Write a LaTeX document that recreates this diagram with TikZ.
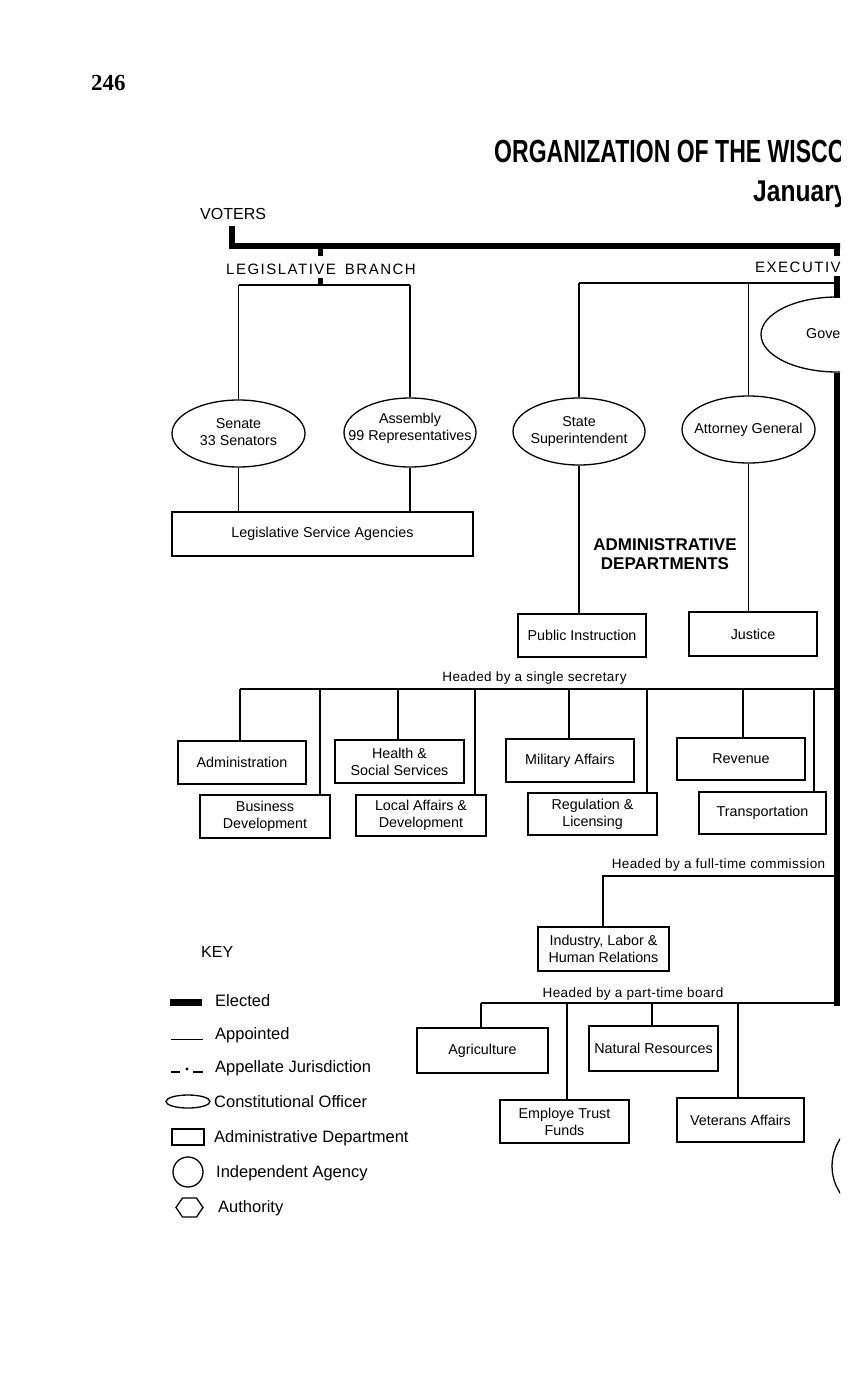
\documentclass[tikz,border=0pt]{standalone}
\usepackage{fontspec}
\setmainfont{Liberation Sans}
\newfontfamily\numfont{Liberation Serif}
\newfontfamily\condfont[FakeStretch=0.72]{Liberation Sans}
\newfontfamily\condfontj[FakeStretch=0.82]{Liberation Sans}
\newfontfamily\spacedfont[LetterSpace=10]{Liberation Sans}
\newfontfamily\lightspaced[LetterSpace=3]{Liberation Sans}
\usetikzlibrary{shapes.geometric}
\newcommand{\bodyfont}{\fontsize{14.3}{17}\selectfont}
\begin{document}
\begin{tikzpicture}[x=1pt,y=-1pt,
  elected/.style={line width=6pt},
  branchline/.style={line width=2.2pt},
  apptline/.style={line width=1.3pt},
  deptbox/.style={draw,line width=1.3pt,rectangle,inner sep=0pt,align=center,font=\bodyfont},
  constoff/.style={draw,line width=1.3pt,ellipse,inner sep=0pt,minimum width=133pt,minimum height=67pt},
  inlabel/.style={align=center,font=\bodyfont,inner sep=0pt},
  headlabel/.style={anchor=base,font=\lightspaced\fontsize{13.5}{16}\selectfont,inner sep=0pt},
  keytext/.style={anchor=base west,font=\fontsize{16.5}{19}\selectfont,inner sep=0pt},
  keyshape/.style={draw,line width=1.3pt,inner sep=0pt},
]
\useasboundingbox (0,0) rectangle (859,1380);
\fill[white] (0,0) rectangle (859,1380);
\begin{scope}
\clip (0,0) rectangle (840,1380);

% headings
\node[anchor=base west,inner sep=0pt,font=\numfont\bfseries\fontsize{23}{26}\selectfont] (pagenum) at (91,91) {246};
\node[anchor=base west,inner sep=0pt,font=\condfont\bfseries\fontsize{32}{36}\selectfont] (title) at (494,163) {ORGANIZATION OF THE WISCO};
\node[anchor=base west,inner sep=0pt,font=\condfontj\bfseries\fontsize{30}{34}\selectfont] (date) at (753,202) {January};

\node[anchor=base west,inner sep=0pt,font=\fontsize{16}{19}\selectfont] (voters) at (200,220) {VOTERS};
\node[anchor=base west,inner sep=0pt,font=\spacedfont\fontsize{15}{18}\selectfont] (legbranch) at (226,274) {LEGISLATIVE\hspace{9pt}BRANCH};
\node[anchor=base west,inner sep=0pt,font=\spacedfont\fontsize{15}{18}\selectfont] (execbranch) at (755,272) {EXECUTIV};

% elected lines
\coordinate (vtop) at (232,226);
\coordinate (vcorner) at (232,246);
\coordinate (vright) at (846,246);
\draw[elected,line join=miter] (vtop) -- (vcorner) -- (vright);
\draw[line width=5pt] (320.5,246) -- (320.5,256);
\draw[line width=5pt] (320.5,278) -- (320.5,285);
\coordinate (legbar) at (320.5,285);
\coordinate (execbar) at (837,283);
\draw[elected] (837,246) -- (837,256);
\draw[elected] (837,276) -- (837,298);

% constitutional officers
\node[constoff] (senate) at (238.5,433.5) {};
\node[inlabel] (senate-t) at (238.5,432) {Senate\\33 Senators};
\node[constoff,minimum width=132pt,minimum height=69pt] (assembly) at (410,432.5) {};
\node[inlabel] (assembly-t) at (410,428) {Assembly\\99 Representatives};
\node[constoff,minimum width=132pt] (statesup) at (579,431.5) {};
\node[inlabel] (statesup-t) at (579,431) {State\\Superintendent};
\node[constoff] (ag) at (748.5,429.5) {};
\node[inlabel] (ag-t) at (748.5,430) {Attorney General};
\node[constoff,minimum width=152pt,minimum height=75pt] (gov) at (837,334.5) {};
\node[anchor=base west,inner sep=0pt,font=\bodyfont] (gov-t) at (806,338) {Gove};

\draw[elected] (gov.south) -- (837,1006);

% legislative
\draw[branchline] (senate.north |- legbar) -- (assembly.north |- legbar);
\draw[apptline] (senate.north) -- (senate.north |- legbar);
\draw[apptline] (assembly.north) -- (assembly.north |- legbar);
\node[deptbox,minimum width=301pt,minimum height=44pt] (lsa) at (322.5,534) {Legislative Service Agencies};
\draw[apptline] (senate.south) -- (senate.south |- lsa.north);
\draw[apptline] (assembly.south) -- (assembly.south |- lsa.north);

% executive elected officers
\draw[branchline] (statesup.north |- execbar) -- (execbar);
\draw[apptline] (statesup.north) -- (statesup.north |- execbar);
\draw[apptline] (ag.north) -- (ag.north |- execbar);

\node[align=center,inner sep=0pt,font=\bfseries\fontsize{17}{19.5}\selectfont] (admdept) at (665,554) {ADMINISTRATIVE\\DEPARTMENTS};

\node[deptbox,minimum width=128pt,minimum height=43pt] (pubinstr) at (582,635.5) {Public Instruction};
\node[deptbox,minimum width=128pt,minimum height=44pt] (justice) at (753,634) {Justice};
\draw[apptline] (statesup.south) -- (statesup.south |- pubinstr.north);
\draw[apptline] (ag.south) -- (ag.south |- justice.north);

% single secretary
\node[headlabel] (hsingle) at (534.5,681) {Headed by a single secretary};
\coordinate (secbar) at (837,689);
\coordinate (s1) at (240,689);
\coordinate (s2) at (320,689);
\coordinate (s3) at (398,689);
\coordinate (s4) at (475,689);
\coordinate (s5) at (569,689);
\coordinate (s6) at (647,689);
\coordinate (s7) at (743,689);
\coordinate (s8) at (814,689);
\draw[apptline] (s1) -- (secbar);

\node[deptbox,minimum width=128pt,minimum height=43pt] (admin) at (242,762.5) {Administration};
\node[deptbox,minimum width=130pt,minimum height=43pt] (busdev) at (265,816.5) {Business\\Development};
\node[deptbox,minimum width=129pt,minimum height=43pt] (health) at (399.5,761.5) {Health \&\\Social Services};
\node[deptbox,minimum width=130pt,minimum height=41pt] (local) at (421,815.5) {Local Affairs \&\\Development};
\node[deptbox,minimum width=128pt,minimum height=43pt] (military) at (570,760.5) {Military Affairs};
\node[deptbox,minimum width=129pt,minimum height=42pt] (regul) at (592.5,814) {Regulation \&\\Licensing};
\node[deptbox,minimum width=128pt,minimum height=42pt] (revenue) at (741,759) {Revenue};
\node[deptbox,minimum width=127pt,minimum height=42pt] (transp) at (762.5,813) {Transportation};

\draw[apptline] (s1) -- (s1 |- admin.north);
\draw[apptline] (s2) -- (s2 |- busdev.north);
\draw[apptline] (s3) -- (s3 |- health.north);
\draw[apptline] (s4) -- (s4 |- local.north);
\draw[apptline] (s5) -- (s5 |- military.north);
\draw[apptline] (s6) -- (s6 |- regul.north);
\draw[apptline] (s7) -- (s7 |- revenue.north);
\draw[apptline] (s8) -- (s8 |- transp.north);

% full-time commission
\node[headlabel] (hcomm) at (718.5,868) {Headed by a full-time commission};
\coordinate (combar) at (837,876);
\coordinate (c1) at (603,876);
\node[deptbox,minimum width=131pt,minimum height=44pt] (industry) at (603.5,949) {Industry, Labor \&\\Human Relations};
\draw[apptline] (combar) -- (c1) -- (c1 |- industry.north);

% part-time board
\node[headlabel] (hboard) at (633,997) {Headed by a part-time board};
\coordinate (boardbar) at (837,1003);
\coordinate (p1) at (481,1003);
\coordinate (p2) at (567,1003);
\coordinate (p3) at (652,1003);
\coordinate (p4) at (738,1003);
\draw[apptline] (boardbar) -- (p1);
\node[deptbox,minimum width=131pt,minimum height=45pt] (agri) at (482.5,1050.5) {Agriculture};
\node[deptbox,minimum width=129pt,minimum height=43pt] (emptrust) at (564.5,1121.5) {Employe Trust\\Funds};
\node[deptbox,minimum width=129pt,minimum height=45pt] (natres) at (653.5,1048.5) {Natural Resources};
\node[deptbox,minimum width=127pt,minimum height=44pt] (veterans) at (740.5,1120) {Veterans Affairs};
\draw[apptline] (p1) -- (p1 |- agri.north);
\draw[apptline] (p2) -- (p2 |- emptrust.north);
\draw[apptline] (p3) -- (p3 |- natres.north);
\draw[apptline] (p4) -- (p4 |- veterans.north);

% partial independent agency at the right edge
\node[keyshape,circle,minimum size=98pt] (indagency) at (881,1166) {};

% key
\node[anchor=base west,inner sep=0pt,font=\fontsize{16}{19}\selectfont] (keyhead) at (201,957) {KEY};
\draw[line width=7pt] (170,1002) -- (202,1002);
\node[keytext] (k1) at (215,1006) {Elected};
\draw[apptline] (171,1039.5) -- (203,1039.5);
\node[keytext] (k2) at (215,1039) {Appointed};
\draw[apptline] (171,1072) -- (180,1072);
\fill (187,1069) circle (1.7);
\draw[apptline] (193,1072) -- (203,1072);
\node[keytext] (k3) at (215,1072) {Appellate Jurisdiction};
\node[keyshape,ellipse,minimum width=44pt,minimum height=13pt] (keyell) at (188,1101.5) {};
\node[keytext] (k4) at (214,1107) {Constitutional Officer};
\node[keyshape,rectangle,minimum width=32pt,minimum height=16pt] (keyrect) at (188,1137) {};
\node[keytext] (k5) at (214,1142) {Administrative Department};
\node[keyshape,circle,minimum size=30pt] (keycirc) at (188,1172) {};
\node[keytext] (k6) at (216,1177) {Independent Agency};
\draw[line width=1.3pt,line join=miter] (176,1207.5) -- (182.5,1198) -- (196.5,1198) -- (203,1207.5) -- (196.5,1217) -- (182.5,1217) -- cycle;
\node[keytext] (k7) at (218,1212) {Authority};
\end{scope}
\end{tikzpicture}
\end{document}
